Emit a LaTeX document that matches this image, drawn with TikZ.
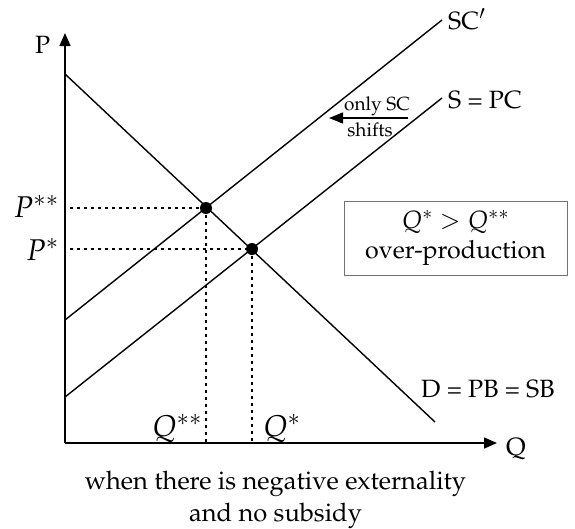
\documentclass[tikz,border=0pt]{standalone}
\usepackage[T1]{fontenc}
\usepackage{mathpazo}
\usetikzlibrary{arrows.meta}
\begin{document}
\begin{tikzpicture}[x=1pt,y=-1pt,
  curve/.style={line width=1.4pt},
  axis/.style={line width=1.4pt,-{Triangle[length=13pt,width=11pt]}},
  guide/.style={line width=1.3pt,dash pattern=on 2.5pt off 4.5pt},
  dot/.style={circle,fill=black,inner sep=0pt,minimum size=12pt},
  lbl/.style={font=\fontsize{25}{30}\selectfont,inner sep=0pt},
  mlbl/.style={font=\fontsize{30}{34}\selectfont,inner sep=0pt},
  small/.style={font=\fontsize{19}{22}\selectfont,inner sep=0pt},
  captext/.style={font=\fontsize{25.5}{32}\selectfont,inner sep=0pt,anchor=base}]
\useasboundingbox (0,0) rectangle (575,528);
\coordinate (O) at (65,443);
\coordinate (Ptop) at (65,33);
\coordinate (Qend) at (497,443);
\draw[axis] (O) -- (Ptop);
\draw[axis] (O) -- (Qend);
\node[lbl,anchor=base west] (Plbl) at (35,53) {P};
\node[lbl,anchor=base west] (Qlbl) at (506,455) {Q};
% curves
\coordinate (D1) at (65,74);
\coordinate (D2) at (435,422);
\coordinate (SC1) at (65,320);
\coordinate (SC2) at (442,20);
\coordinate (S1) at (65,397);
\coordinate (S2) at (442,98);
\draw[curve] (D1) -- (D2);
\draw[curve] (SC1) -- (SC2);
\draw[curve] (S1) -- (S2);
\node[lbl,anchor=base west] (SClbl) at (448,29) {SC$'$};
\node[lbl,anchor=base west] (Slbl) at (448,108) {S = PC};
\node[lbl,anchor=base west] (Dlbl) at (421,397) {D = PB = SB};
% equilibria
\node[dot] (E2) at (206,208) {};
\node[dot] (E1) at (252,249) {};
\coordinate (P2a) at (70,208);
\coordinate (P1a) at (70,249);
\coordinate (Q2a) at (206,443);
\coordinate (Q1a) at (252,443);
\draw[guide] (P2a) -- (E2.center);
\draw[guide] (P1a) -- (E1.center);
\draw[guide] (E2.center) -- (Q2a);
\draw[guide] (E1.center) -- (Q1a);
\node[mlbl,anchor=base east] (P2lbl) at (59,217) {$P^{**}$};
\node[mlbl,anchor=base east] (P1lbl) at (59,260) {$P^{*}$};
\node[mlbl,anchor=base west] (Q2lbl) at (152,436) {$Q^{**}$};
\node[mlbl,anchor=base west] (Q1lbl) at (263,436) {$Q^{*}$};
% shift arrow
\coordinate (A1) at (408,118);
\coordinate (A2) at (329,118);
\draw[line width=1.4pt,-{Triangle[length=14pt,width=11pt]}] (A1) -- (A2);
\node[small,anchor=base] (only) at (377,110) {only SC};
\node[small,anchor=base] (shifts) at (370,136) {shifts};
% box
\node[draw=black!55,line width=0.9pt,minimum width=223pt,minimum height=74pt,align=center,
  font=\fontsize{25}{30}\selectfont] (box) at (455.5,238) {$Q^{*} > Q^{**}$\\over-production};
% caption
\node[captext] (caption1) at (275.5,489) {when there is negative externality};
\node[captext] (caption2) at (275.5,521) {and no subsidy};
\end{tikzpicture}
\end{document}
